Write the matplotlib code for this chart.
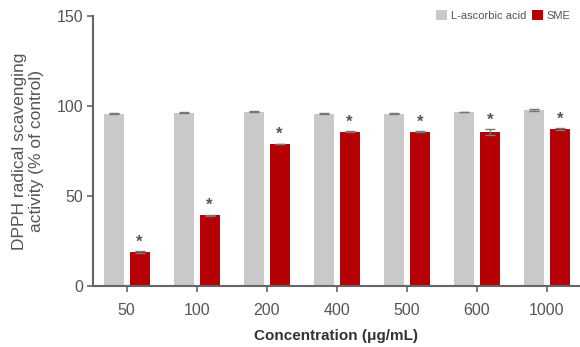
import numpy as np
import matplotlib.pyplot as plt

# Данни
concentrations = ['50', '100', '200', '400', '500', '600', '1000']
ascorbic = [95.7, 96.3, 96.9, 95.7, 95.6, 96.7, 97.8]
ascorbic_err = [0.3, 0.3, 0.3, 0.3, 0.3, 0.2, 0.3]
sme = [18.9, 39.4, 78.9, 85.6, 85.6, 85.6, 87.2]
sme_err = [0.3, 0.3, 0.2, 0.3, 0.3, 1.5, 0.4]

gray = '#c8c9c8'
red = '#b50005'
axis_col = '#666666'
text_col = '#555555'

plt.rcParams['font.family'] = ['Liberation Sans', 'DejaVu Sans']

fig = plt.figure(figsize=(5.8, 3.47), dpi=100)
ax = fig.add_axes([93 / 580, 61 / 347, 487 / 580, 270 / 347])

x = np.arange(len(concentrations))
w = 0.286
off = 0.186
ax.bar(x - off, ascorbic, w, color=gray, label='L-ascorbic acid',
       yerr=ascorbic_err, ecolor='#777777', capsize=3.4,
       error_kw={'elinewidth': 1, 'capthick': 1})
ax.bar(x + off, sme, w, color=red, label='SME',
       yerr=sme_err, ecolor='#777777', capsize=3.4,
       error_kw={'elinewidth': 1, 'capthick': 1})

# Звездички над SME
for xi, v, e in zip(x, sme, sme_err):
    ax.annotate('*', (xi + off, v + e), xytext=(0, 1), textcoords='offset points',
                ha='center', va='bottom', fontsize=12, fontweight='bold', color=text_col)

ax.set_xlim(-0.48, 6.476)
ax.set_ylim(0, 150)
ax.set_yticks([0, 50, 100, 150])
ax.set_xticks(x)
ax.set_xticklabels(concentrations)

for s in ['top', 'right']:
    ax.spines[s].set_visible(False)
for s in ['left', 'bottom']:
    ax.spines[s].set_color(axis_col)
    ax.spines[s].set_linewidth(1.5)
ax.tick_params(axis='both', colors=axis_col, length=4, width=1.2,
               labelcolor=text_col, labelsize=11.5)
ax.tick_params(axis='x', pad=8)
ax.tick_params(axis='y', pad=3)

ax.set_xlabel('Concentration (μg/mL)', fontsize=11, fontweight='bold',
              color='#333333', labelpad=8)
ax.set_ylabel('DPPH radical scavenging\nactivity (% of control)', fontsize=12.5,
              color=text_col, labelpad=9, linespacing=1.2)

ax.legend(loc='upper right', bbox_to_anchor=(1.0, 1.06), ncol=2, frameon=False,
          fontsize=8, handlelength=1.0, handleheight=1.0, handletextpad=0.3,
          columnspacing=0.5, labelcolor=text_col)

plt.savefig('out.png', dpi=100)
